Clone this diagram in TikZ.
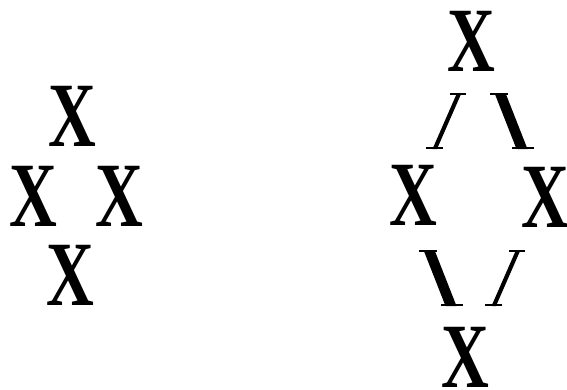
\documentclass[tikz,border=0pt]{standalone}
\usepackage{fontspec}
\setmainfont{Liberation Serif}
\usetikzlibrary{calc}
\newcommand\glyphX{\scalebox{0.72}[1]{X}}
\begin{document}
\begin{tikzpicture}[x=1pt,y=-1pt,
  glyph/.style={inner sep=0pt, outer sep=0pt, font=\fontsize{92}{92}\selectfont\bfseries},
  thickbs/.pic={
    \fill (-16.5,-28) -- (-5.5,-28) -- (16.5,28) -- (5.5,28) -- cycle;
    \fill (-21,-28) rectangle (-3,-25.8);
    \fill (1,28) rectangle (23,25.8);
  },
  thinfs/.pic={
    \fill (10,-28) -- (14.5,-28) -- (-10,28) -- (-14.5,28) -- cycle;
    \fill (3,-28) rectangle (19,-26.3);
    \fill (-21,28) rectangle (-4,26.3);
  }
]
\useasboundingbox (0,0) rectangle (567,389);
% left group
\node[glyph] (LT) at (72,116) {\glyphX};
\node[glyph] (LL) at (33,196) {\glyphX};
\node[glyph] (LR) at (119,196) {\glyphX};
\node[glyph] (LB) at (70,275) {\glyphX};
% right group
\node[glyph] (RT) at (471,41) {\glyphX};
\node[glyph] (RL) at (413,195) {\glyphX};
\node[glyph] (RR) at (545,197) {\glyphX};
\node[glyph] (RB) at (465,357) {\glyphX};
% strokes between them
\pic (s1) at ($(RT)!0.5!(RL)+(5,3)$) {thinfs};
\pic (s2) at ($(RT)!0.5!(RR)+(3,2)$) {thickbs};
\pic (s3) at ($(RL)!0.5!(RB)+(1,2)$) {thickbs};
\pic (s4) at ($(RR)!0.5!(RB)+(1,1)$) {thinfs};
\end{tikzpicture}
\end{document}
